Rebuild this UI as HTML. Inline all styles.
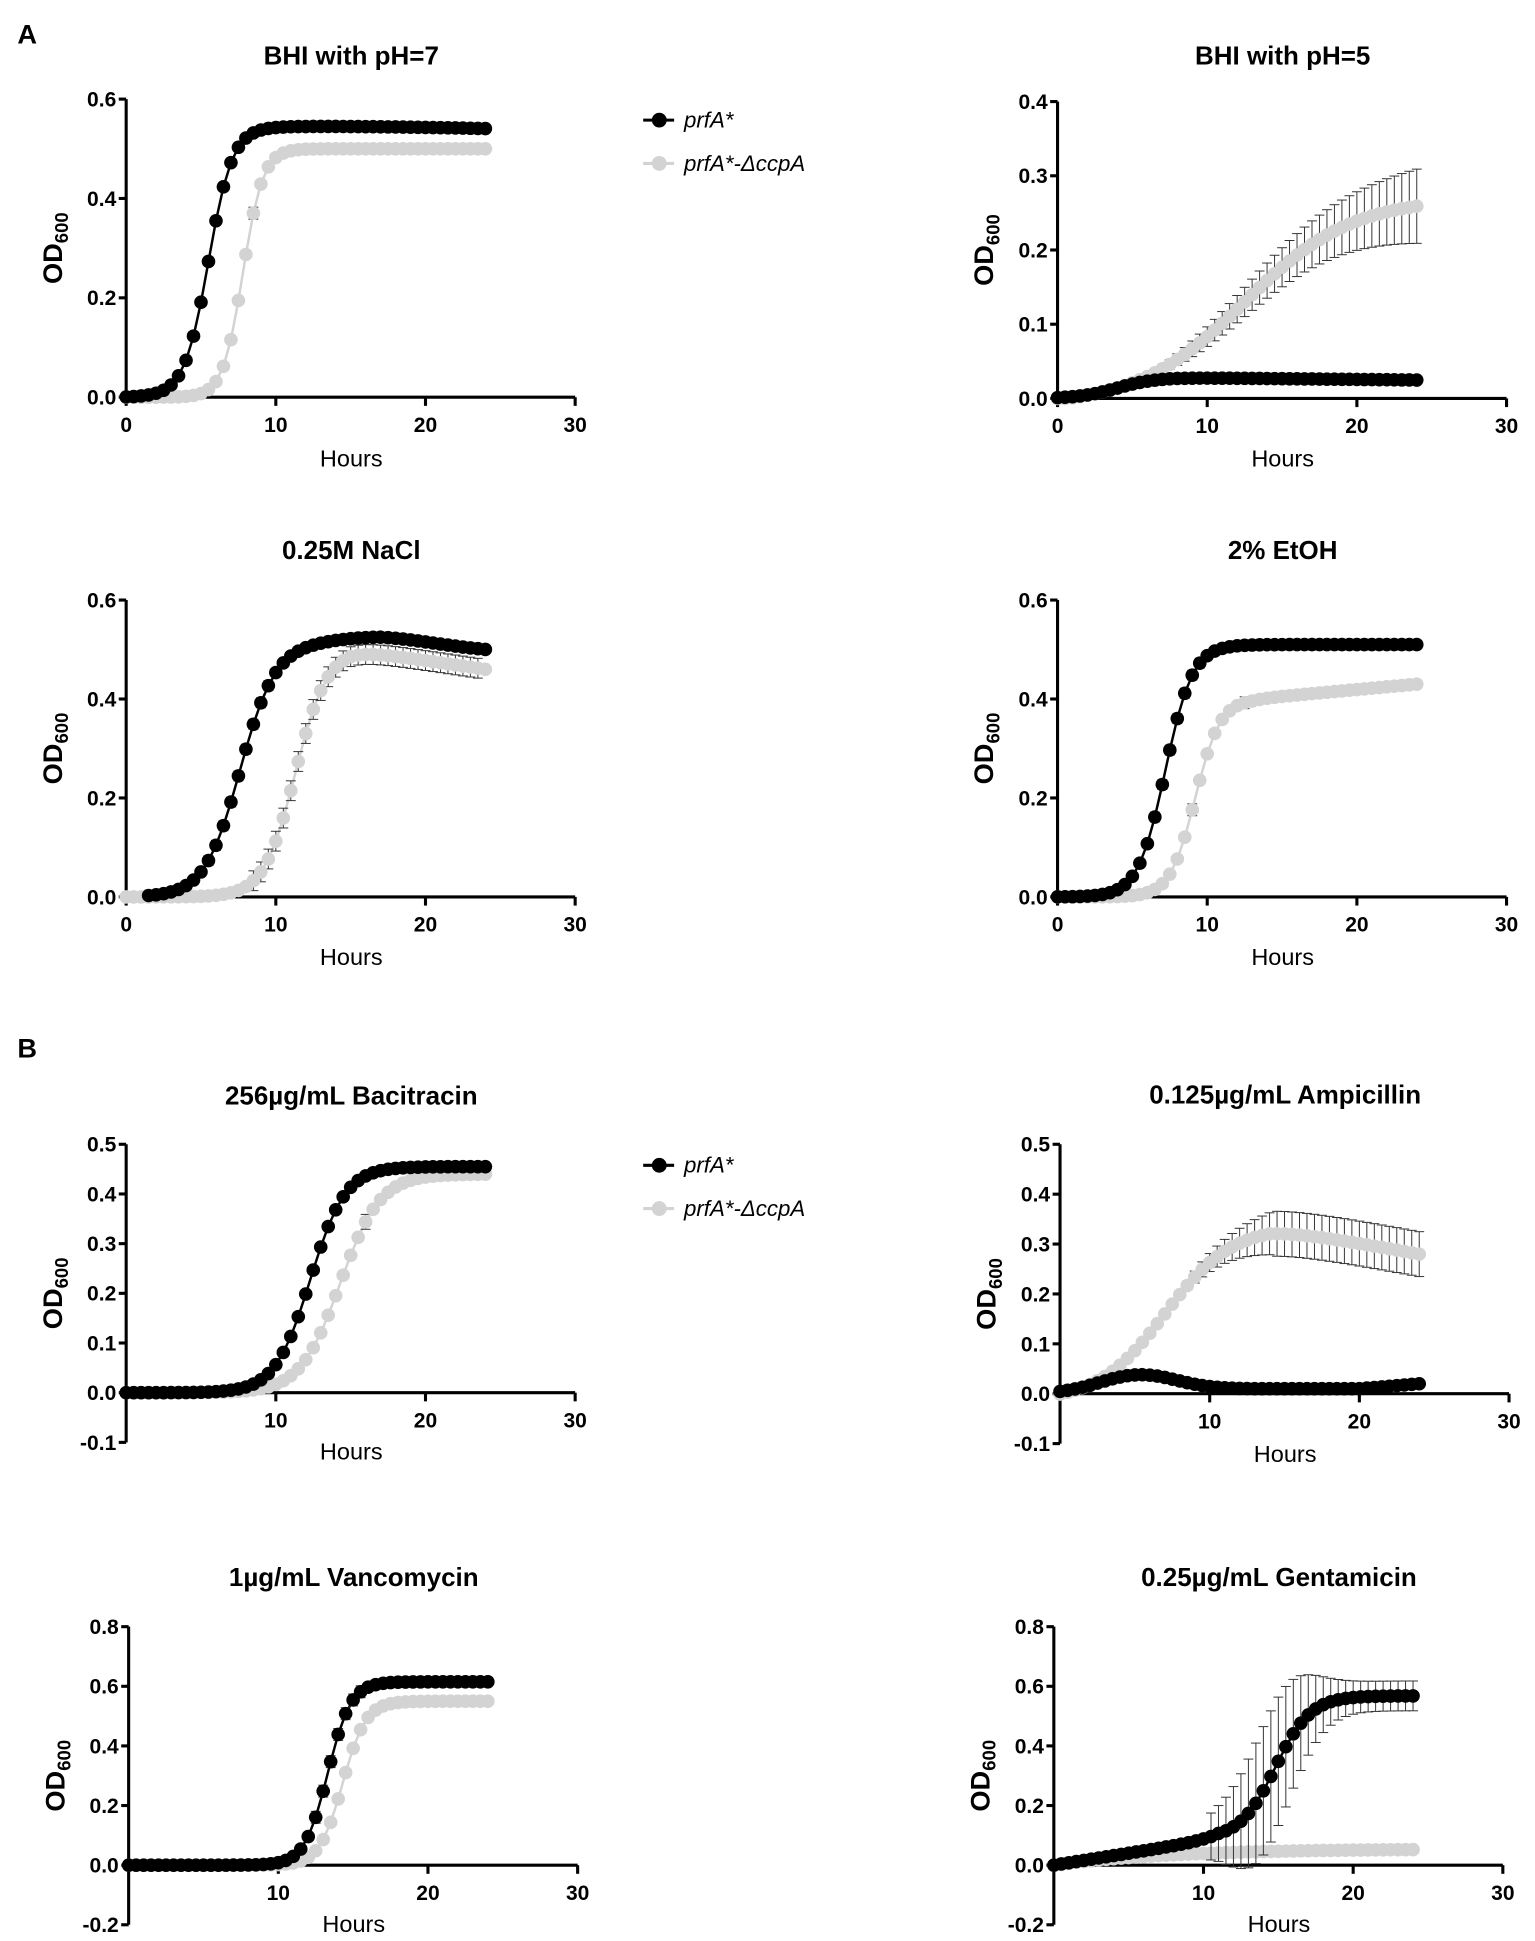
<!DOCTYPE html>
<html><head><meta charset="utf-8"><style>
html,body{margin:0;padding:0;background:#fff}
svg{display:block}
text{font-family:"Liberation Sans",Arial,sans-serif}
</style></head><body>
<svg id="s" width="1535" height="1941" viewBox="0 0 1241 1569" xmlns="http://www.w3.org/2000/svg">
<text x="14" y="35" font-size="22" font-weight="bold">A</text>
<text x="14" y="855" font-size="22" font-weight="bold">B</text>
</svg>
<script>
var S=document.getElementById('s'),NS='http://www.w3.org/2000/svg';
function el(t,a,txt){var e=document.createElementNS(NS,t);for(var k in a)e.setAttribute(k,a[k]);if(txt!==undefined)e.textContent=txt;S.appendChild(e);return e;}
function lg(x){return 1/(1+Math.exp(-x));}
function legend(y){
 el('line',{x1:520,y1:y,x2:545,y2:y,stroke:'#000','stroke-width':2.5});
 el('circle',{cx:533,cy:y,r:6,fill:'#000'});
 el('text',{x:553,y:y+6,'font-size':18,'font-style':'italic'},'prfA*');
 el('line',{x1:520,y1:y+35,x2:545,y2:y+35,stroke:'#d3d3d3','stroke-width':2.5});
 el('circle',{cx:533,cy:y+35,r:6,fill:'#d3d3d3'});
 el('text',{x:553,y:y+41,'font-size':18,'font-style':'italic'},'prfA*-\u0394ccpA');
}
legend(97);legend(942);
function plot(p){
 var x0=p.x0,x1=p.x0+363,ymin=p.ymin,ymax=p.ymax,yt=p.yt,yb=p.yb;
 function X(t){return x0+t/30*(x1-x0);}
 function Y(v){return yb-(v-ymin)/(ymax-ymin)*(yb-yt);}
 var y0=Y(0);
 el('text',{x:x0+182,y:p.ty,'font-size':21,'font-weight':'bold','text-anchor':'middle'},p.title);
 el('line',{x1:x0,y1:yt,x2:x0,y2:yb,stroke:'#000','stroke-width':2.5});
 el('line',{x1:x0,y1:y0,x2:x1,y2:y0,stroke:'#000','stroke-width':2.5});
 for(var v=ymin;v<=ymax+1e-9;v+=p.ys){var yy=Y(v);
  el('line',{x1:x0-6,y1:yy,x2:x0,y2:yy,stroke:'#000','stroke-width':2.5});
  el('text',{x:x0-8,y:yy+6,'font-size':17,'font-weight':'bold','text-anchor':'end'},v.toFixed(1));}
 for(var t=(p.zero?0:10);t<=30;t+=10){
  el('line',{x1:X(t),y1:y0,x2:X(t),y2:y0+7,stroke:'#000','stroke-width':2.5});
  el('text',{x:X(t),y:y0+28,'font-size':17,'font-weight':'bold','text-anchor':'middle'},String(t));}
 el('text',{x:x0+182,y:p.hy,'font-size':19,'text-anchor':'middle'},'Hours');
 var ly=(yt+yb)/2, g=el('text',{x:0,y:0,'font-size':22,'font-weight':'bold','text-anchor':'middle',transform:'translate('+(x0-52)+','+ly+') rotate(-90)'});
 g.innerHTML='OD<tspan font-size="15" dy="5">600</tspan>';
 [[p.g,'#d3d3d3',p.ge],[p.b,'#000',p.be]].forEach(function(s){
  var pts=[];for(var t=0;t<=24.01;t+=0.5){pts.push([t,s[0](t)]);}
  if(s[0].start!==undefined)pts=pts.filter(function(q){return q[0]>=s[0].start});
  el('polyline',{points:pts.map(function(q){return X(q[0])+','+Y(q[1])}).join(' '),fill:'none',stroke:s[1],'stroke-width':2});
  if(s[2])pts.forEach(function(q){var e=s[2](q[0]);if(e>0.004){
   el('line',{x1:X(q[0]),y1:Y(q[1]-e),x2:X(q[0]),y2:Y(q[1]+e),stroke:'#333','stroke-width':0.8});
   el('line',{x1:X(q[0])-4,y1:Y(q[1]+e),x2:X(q[0])+4,y2:Y(q[1]+e),stroke:'#333','stroke-width':0.8});
   el('line',{x1:X(q[0])-4,y1:Y(q[1]-e),x2:X(q[0])+4,y2:Y(q[1]-e),stroke:'#333','stroke-width':0.8});}});
  pts.forEach(function(q){el('circle',{cx:X(q[0]),cy:Y(q[1]),r:5.5,fill:s[1]});});
 });
}
var sNaClB=function(t){return 0.51*lg((t-7.6)*0.85)+0.015*Math.exp(-Math.pow((t-17)/5,2))-0.012*Math.max(0,t-17)/7;};sNaClB.start=1.5;
plot({title:'BHI with pH=7',x0:102,yt:80,yb:321,ymin:0,ymax:0.6,ys:0.2,ty:52,hy:377,zero:1,
 b:function(t){return 0.54*lg((t-5.5)*1.25)+0.005*Math.sin(t/8);},be:function(t){return t>3&&t<24?0.008:0;},
 g:function(t){return 0.50*lg((t-7.8)*1.5);},ge:function(t){return Math.abs(t-8.5)<0.3?0.012:0;}});
plot({title:'BHI with pH=5',x0:855,yt:82,yb:322,ymin:0,ymax:0.4,ys:0.1,ty:52,hy:377,zero:1,
 b:function(t){return 0.028*lg((t-4)*0.8)-0.0002*Math.max(0,t-8);},
 g:function(t){return Math.max(0,0.28*lg((t-12.5)/3.6)-0.01);},ge:function(t){return t>5?0.05*(t-5)/19:0;}});
plot({title:'0.25M NaCl',x0:102,yt:485,yb:725,ymin:0,ymax:0.6,ys:0.2,ty:452,hy:780,zero:1,
 b:sNaClB,be:function(t){return t>5&&t<10?0.01:0;},
 g:function(t){return 0.5*lg((t-11.3)*0.95)-0.04*Math.max(0,t-15)/9;},ge:function(t){return t>8&&t<24?0.02:0;}});
plot({title:'2% EtOH',x0:855,yt:485,yb:725,ymin:0,ymax:0.6,ys:0.2,ty:452,hy:780,zero:1,
 b:function(t){return 0.51*lg((t-7.2)*1.1);},be:function(t){return t>6&&t<10?0.01:0;},
 g:function(t){return 0.40*lg((t-9.2)*1.2)+0.03*Math.max(0,t-13)/11;},ge:function(t){return Math.abs(t-9)<0.3||Math.abs(t-12.5)<0.3?0.012:0;}});
plot({title:'256\u00b5g/mL Bacitracin',x0:102,yt:925,yb:1166,ymin:-0.1,ymax:0.5,ys:0.1,ty:893,hy:1180,
 b:function(t){return 0.455*lg((t-12.3)*0.85);},
 g:function(t){return 0.44*lg((t-14.3)*0.75);},ge:function(t){return Math.abs(t-16)<0.3?0.015:0;}});
plot({title:'0.125\u00b5g/mL Ampicillin',x0:857,yt:925,yb:1167,ymin:-0.1,ymax:0.5,ys:0.1,ty:892,hy:1182,
 b:function(t){return 0.035*Math.exp(-Math.pow((t-5)/3.5,2))+0.01*lg(t-6)+0.01*Math.max(0,t-20)/4;},
 g:function(t){return 0.35*lg((t-7)*0.45)-0.055*Math.max(0,t-14)/10-0.015;},ge:function(t){return t>7?Math.min(0.045,0.006*(t-7)):0;}});
plot({title:'1\u00b5g/mL Vancomycin',x0:104,yt:1315,yb:1556,ymin:-0.2,ymax:0.8,ys:0.2,ty:1282,hy:1562,
 b:function(t){return 0.615*lg((t-13.3)*1.3);},be:function(t){return t>12&&t<16?0.02:0;},
 g:function(t){return 0.55*lg((t-14.3)*1.3);}});
plot({title:'0.25\u00b5g/mL Gentamicin',x0:852,yt:1315,yb:1556,ymin:-0.2,ymax:0.8,ys:0.2,ty:1282,hy:1562,
 g:function(t){return 0.055*(1-Math.exp(-t/8));},
 b:function(t){return 0.008*Math.min(t,11)+0.48*lg((t-14.8)*0.85);},be:function(t){return t>10?0.05+0.17*Math.exp(-Math.pow((t-14.5)/3,2)):0;}});
</script>
</body></html>
